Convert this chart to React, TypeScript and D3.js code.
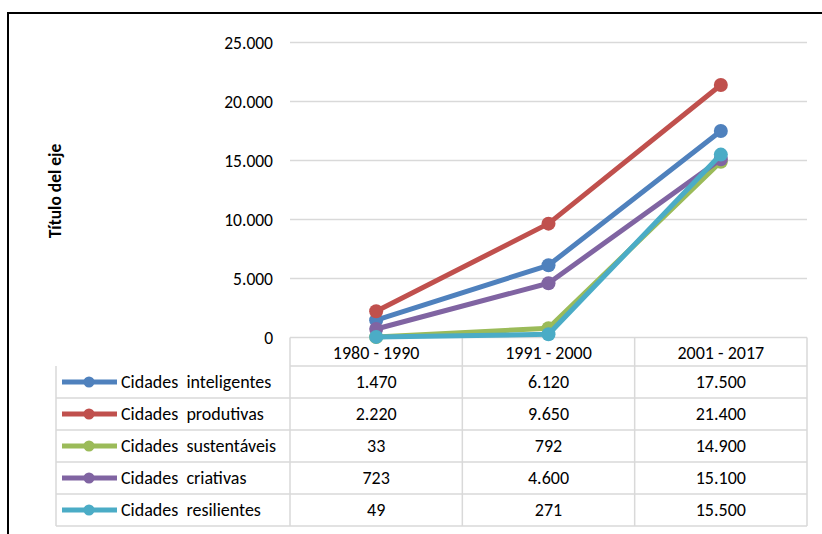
import * as d3 from "d3";

const periods = ["1980 - 1990", "1991 - 2000", "2001 - 2017"];
const seriesNames = [
  "Cidades  inteligentes",
  "Cidades  produtivas",
  "Cidades  sustentáveis",
  "Cidades  criativas",
  "Cidades  resilientes",
];
const seriesColors = ["#4F81BD", "#C0504D", "#9BBB59", "#8064A2", "#4BACC6"];
const inteligentes = [1470, 6120, 17500];
const produtivas = [2220, 9650, 21400];
const sustentaveis = [33, 792, 14900];
const criativas = [723, 4600, 15100];
const resilientes = [49, 271, 15500];
const yTicks = [0, 5000, 10000, 15000, 20000, 25000];
const axisTitle = "Título del eje";

const seriesValues = [inteligentes, produtivas, sustentaveis, criativas, resilientes];

const locale = d3.formatLocale({ decimal: ",", thousands: ".", grouping: [3], currency: ["", ""] });
const fmt = locale.format(",d");

const FONT = "Carlito, Lato, sans-serif";
const FS = 17.5;
const FS_TABLE = 18;

export default function App() {
  const W = 822, H = 534;
  const plotL = 290, plotR = 807, plotT = 42.5, plotB = 337.5;
  const legendL = 56;
  const rowH = 32;
  const headerB = 366;

  const x = d3.scaleBand<string>().domain(periods).range([plotL, plotR]);
  const y = d3.scaleLinear().domain([0, 25000]).range([plotB, plotT]);
  const cx = (i: number) => (x(periods[i]) ?? 0) + x.bandwidth() / 2;
  const line = d3.line<number>().x((_, i) => cx(i)).y((v) => y(v));

  const tableBottom = headerB + rowH * seriesNames.length;
  const grid = "#D9D9D9";

  return (
    <svg width={W} height={H} style={{ position: "absolute", left: 0, top: 0, background: "#fff" }}
         fontFamily={FONT}>
      <rect x={8} y={13} width={W + 20} height={H + 20} fill="#fff" stroke="#000" strokeWidth={2} />

      {/* gridlines + y labels */}
      {yTicks.filter((t) => t > 0).map((t) => (
        <line key={t} x1={plotL} x2={plotR} y1={y(t)} y2={y(t)} stroke={grid} strokeWidth={1.5} />
      ))}
      {yTicks.map((t) => (
        <text key={t} x={273} y={y(t)} dy="0.35em" textAnchor="end" fontSize={FS} fill="#000">
          {fmt(t)}
        </text>
      ))}
      <text transform={`translate(61,${(plotT + plotB) / 2 + 1}) rotate(-90)`} textAnchor="middle"
            fontSize={FS} fontWeight="bold" fill="#000">{axisTitle}</text>

      {/* data table */}
      <g stroke={grid} strokeWidth={1.5} fill="none">
        <line x1={plotL} x2={plotR} y1={plotB} y2={plotB} />
        {[0, 1, 2, 3, 4, 5].map((i) => (
          <line key={i} x1={i === 0 ? plotL : legendL} x2={plotR} y1={headerB + rowH * i} y2={headerB + rowH * i} />
        ))}
        <line x1={legendL} x2={legendL} y1={headerB} y2={tableBottom} />
        {periods.map((p) => (
          <line key={p} x1={x(p)} x2={x(p)} y1={plotB} y2={tableBottom} />
        ))}
        <line x1={plotR} x2={plotR} y1={plotB} y2={tableBottom} />
      </g>
      {periods.map((p, i) => (
        <text key={p} x={cx(i)} y={(plotB + headerB) / 2 + 1} dy="0.35em"
              textAnchor="middle" fontSize={FS_TABLE} fill="#000">{p}</text>
      ))}
      {seriesNames.map((name, si) => {
        const ry = headerB + rowH * si + rowH / 2;
        return (
          <g key={name}>
            <line x1={62} x2={117} y1={ry} y2={ry} stroke={seriesColors[si]} strokeWidth={5} />
            <circle cx={89} cy={ry} r={5.5} fill={seriesColors[si]} />
            <text x={121} y={ry} dy="0.35em" fontSize={FS_TABLE} fill="#000" style={{ whiteSpace: "pre" }}>{name}</text>
            {seriesValues[si].map((v, i) => (
              <text key={i} x={cx(i)} y={ry} dy="0.35em"
                    textAnchor="middle" fontSize={FS_TABLE} fill="#000">{fmt(v)}</text>
            ))}
          </g>
        );
      })}

      {/* series */}
      {seriesValues.map((vals, si) => (
        <g key={si}>
          <path d={line(vals) ?? ""} fill="none" stroke={seriesColors[si]} strokeWidth={5}
                strokeLinejoin="round" />
          {vals.map((v, i) => (
            <circle key={i} cx={cx(i)} cy={y(v)} r={7} fill={seriesColors[si]} />
          ))}
        </g>
      ))}
    </svg>
  );
}
